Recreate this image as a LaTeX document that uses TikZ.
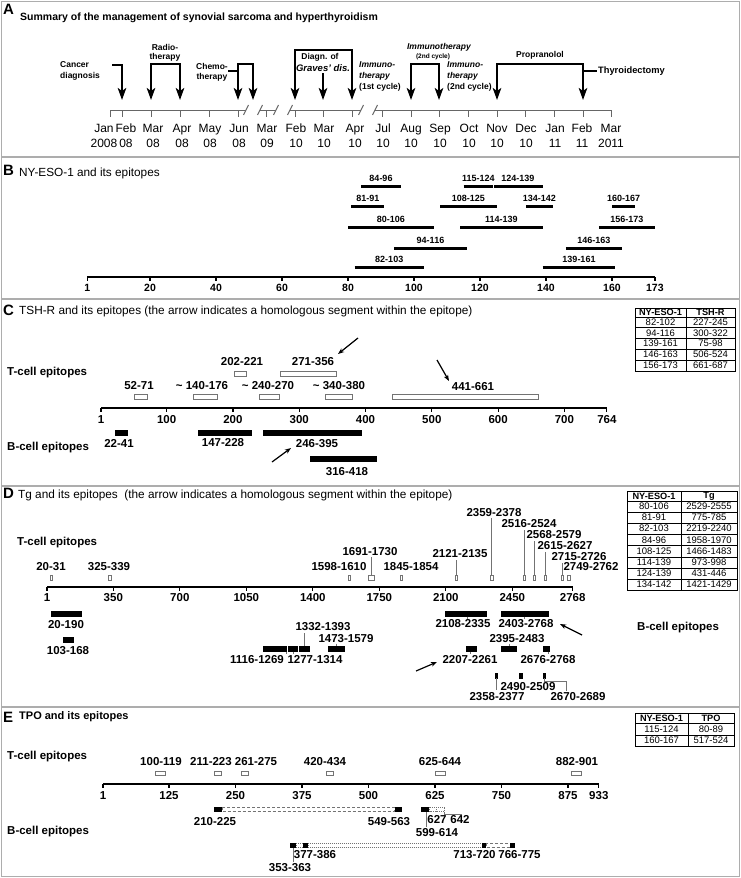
\documentclass[tikz,border=0pt]{standalone}
\usepackage{fontspec}
\setmainfont{Liberation Sans}
\usetikzlibrary{arrows.meta}
\newcommand\fs[2]{\fontsize{#1}{#2}\selectfont}
\tikzset{
  ah/.tip={Stealth[length=12pt,width=8.5pt,inset=3pt]},
  sh/.tip={Stealth[length=6pt,width=4.5pt,inset=1.5pt]},
}
\begin{document}
\begin{tikzpicture}[x=1pt,y=-1pt,
  frame/.style={draw=black!32,line width=1.2pt},
  plet/.style={font=\bfseries\fs{15}{15},inner sep=0,anchor=west},
  ttl/.style={font=\fs{11.8}{12},inner sep=0,anchor=west},
  ttlb/.style={font=\bfseries\fs{10.5}{11},inner sep=0,anchor=west},
  alab/.style={font=\bfseries\fs{8.5}{11},inner sep=0,align=center},
  aital/.style={font=\bfseries\itshape\fs{8.5}{11},inner sep=0},
  amon/.style={font=\fs{12}{15},inner sep=0,align=center},
  aaxis/.style={draw=black!60,line width=1pt},
  aarr/.style={line width=2pt},
  axis/.style={draw=black,line width=1.5pt},
  tick/.style={draw=black,line width=1.2pt},
  tickl/.style={font=\bfseries\fs{11.5}{12},inner sep=0},
  elab/.style={font=\bfseries\fs{11.5}{12},inner sep=0},
  blab/.style={font=\bfseries\fs{9}{10},inner sep=0},
  glab/.style={font=\bfseries\fs{11.5}{12},inner sep=0,anchor=west},
  bbar/.style={draw=black,line width=3pt},
  tbox/.style={draw=black!55,fill=white,line width=0.8pt},
  lead/.style={draw=black!55,line width=0.8pt},
  harr/.style={draw=black,line width=1.2pt,-sh},
  tabl/.style={draw=black,line width=0.7pt},
  thd/.style={font=\bfseries\fs{9.2}{10},inner sep=0},
  tcl/.style={font=\fs{9.5}{10},inner sep=0},
  dbox/.style={draw=black!55,line width=0.8pt,dash pattern=on 3pt off 2pt},
  obox/.style={draw=black!55,line width=0.8pt,dash pattern=on 1pt off 1pt},
]
\useasboundingbox (0,0) rectangle (741,878);
\fill[white] (0,0) rectangle (741,878);
\draw[frame] (1.5,1.5) rectangle (739.5,876.5);
\foreach \y in {157,299,486,707} \draw[frame] (1.5,\y) -- (739.5,\y);

% ================= A =================
\node[plet] (LA) at (3,9) {A};
\node[ttlb] (TA) at (20,18) {Summary of the management of synovial sarcoma and hyperthyroidism};
\draw[aaxis] (110,110) -- (246,110);
\draw[aaxis] (260,110) -- (276,110);
\draw[aaxis] (290,110) -- (361,110);
\draw[aaxis] (375,110) -- (611,110);
\foreach \x in {246,260,276,290,361,375} \draw[aaxis] (\x-2.5,115) -- (\x+2.5,105);
\foreach \x/\lx/\m/\yr [count=\i] in {110/104/Jan/2008,122/126/Feb/08,151/153/Mar/08,180/182/Apr/08,209/210/May/08,238/239/Jun/08,266/267/Mar/09,295/296/Feb/10,323/324/Mar/10,352/355/Apr/10,382/383/Jul/10,411/411/Aug/10,439/440/Sep/10,468/469/Oct/10,497/497/Nov/10,525/526/Dec/10,554/555/Jan/11,583/582/Feb/11,611/611/Mar/2011}{
  \draw[aaxis] (\x,110) -- (\x,117);
  \node[amon] (M\i) at (\lx,135.5) {\m\\\yr};
}
\draw[aarr,-ah] (112,65) -- (122,65) -- (122,100);
\draw[aarr,ah-ah] (151,100) -- (151,64) -- (180,64) -- (180,100);
\draw[aarr] (228,71) -- (238,71);
\draw[aarr,ah-ah] (238,100) -- (238,64) -- (253,64) -- (253,100);
\draw[aarr,ah-ah] (295,100) -- (295,50) -- (352,50) -- (352,100);
\draw[aarr,-ah] (323,73) -- (323,100);
\draw[aarr,ah-ah] (411,100) -- (411,64) -- (439,64) -- (439,100);
\draw[aarr,ah-ah] (497,100) -- (497,64) -- (583,64) -- (583,100);
\draw[aarr] (583,71) -- (597,71);
\node[alab,anchor=west,align=left] (cancer) at (60,70.5) {Cancer\\diagnosis};
\node[alab] (radio) at (165,52.5) {Radio-\\[-2pt]therapy};
\node[alab] (chemo) at (212,72) {Chemo-\\[-1pt]therapy};
\node[alab] (diagn) at (320,57) {Diagn. of};
\node[aital,font=\bfseries\itshape\fs{9.5}{11}] (graves) at (323,68) {Graves' dis.};
\node[alab,anchor=west,align=left] (imm1) at (359,76) {\textit{Immuno-}\\\textit{therapy}\\(1st cycle)};
\node[aital] (imm2t) at (439,47) {Immunotherapy};
\node[alab,font=\bfseries\fs{6.5}{8}] (imm2c) at (433,57) {(2nd cycle)};
\node[alab,anchor=west,align=left] (imm2) at (447,76) {\textit{Immuno-}\\\textit{therapy}\\(2nd cycle)};
\node[alab] (prop) at (540,55) {Propranolol};
\node[alab,anchor=west,font=\bfseries\fs{9.3}{11}] (thyr) at (598,71) {Thyroidectomy};

% ================= B =================
\node[plet] (LB) at (3,170) {B};
\node[ttl] (TB) at (19,173) {NY-ESO-1 and its epitopes};
\draw[axis] ({84+3.3*1},277) -- ({84+3.3*173},277);
\foreach \v in {1,20,40,60,80,100,120,140,160,173} {
  \draw[tick] ({84+3.3*\v},277) -- ++(0,4);
  \node[tickl,font=\bfseries\fs{10.5}{11}] (bt\v) at ({84+3.3*\v},288) {\v};
}
\foreach \pa/\pb/\y/\lab [count=\i] in {84/96/186/84-96, 115/124/186/115-124, 124/139/186/124-139, 81/91/206/81-91, 108/125/206/108-125, 134/142/206/134-142, 160/167/206/160-167, 80/106/227/80-106, 114/139/227/114-139, 156/173/227/156-173, 94/116/248/94-116, 146/163/248/146-163, 82/103/267/82-103, 139/161/267/139-161} {
  \draw[bbar] ({84+3.3*\pa},\y) -- ({84+3.3*\pb},\y);
  \node[blab] (be\i) at ({84+1.65*(\pa+\pb)},\y-8) {\lab};
}
\draw[white,line width=1pt] ({84+3.3*124},183) -- ({84+3.3*124},189);

% ================= C =================
\node[plet] (LC) at (3,310) {C};
\node[ttl] (TC) at (19,311) {TSH-R and its epitopes (the arrow indicates a homologous segment within the epitope)};
\node[glab] (CT) at (7,373) {T-cell epitopes};
\node[glab] (CB) at (7,448) {B-cell epitopes};
\draw[axis] (101,408) -- ({101+0.663*763},408);
\foreach \v in {1,100,200,300,400,500,600,700,764} {
  \draw[tick] ({101+0.663*(\v-1)},408) -- ++(0,4);
  \node[tickl] (ct\v) at ({101+0.663*(\v-1)},420) {\v};
}
\foreach \pa/\pb/\y in {202/221/371, 271/356/371, 52/71/394, 140/176/394, 240/270/394, 340/380/394, 441/661/394}
  \draw[tbox] ({101+0.663*(\pa-1)},\y) rectangle ({101+0.663*(\pb-1)},\y+5);
\node[elab] (c1) at (242,362) {202-221};
\node[elab] (c2) at (313,362) {271-356};
\node[elab] (c3) at (139,386) {52-71};
\node[elab] (c4) at (202,386) {\textasciitilde{} 140-176};
\node[elab] (c5) at (268,386) {\textasciitilde{} 240-270};
\node[elab] (c6) at (339,386) {\textasciitilde{} 340-380};
\node[elab] (c7) at (473,387) {441-661};
\foreach \pa/\pb/\y in {22/41/430, 147/228/430, 246/395/430, 316/418/456}
  \fill[black] ({101+0.663*(\pa-1)},\y) rectangle ({101+0.663*(\pb-1)},\y+5.5);
\node[elab] (c8) at (119,443) {22-41};
\node[elab] (c9) at (223,443) {147-228};
\node[elab] (c10) at (317,444) {246-395};
\node[elab] (c11) at (347,472) {316-418};
\coordinate (ca1s) at (358,338); \coordinate (ca1e) at (338,354);
\coordinate (ca2s) at (437,360); \coordinate (ca2e) at (449,381);
\coordinate (ca3s) at (272,462); \coordinate (ca3e) at (291,448);
\draw[harr] (ca1s) -- (ca1e);
\draw[harr] (ca2s) -- (ca2e);
\draw[harr] (ca3s) -- (ca3e);
% table C
\draw[tabl] (635,308) rectangle (735,371);
\draw[tabl] (686,308) -- (686,371);
\foreach \y in {317,327.5,338,349,360} \draw[tabl] (635,\y) -- (735,\y);
\node[thd] (tc0a) at (660.5,312.5) {NY-ESO-1};
\node[thd] (tc0b) at (710.5,312.5) {TSH-R};
\foreach \ya/\pa/\pb [count=\i] in {322.25/82-102/227-245, 332.75/94-116/300-322, 343.5/139-161/75-98, 354.5/146-163/506-524, 365.5/156-173/661-687} {
  \node[tcl] (tc\i a) at (660.5,\ya) {\pa};
  \node[tcl] (tc\i b) at (710.5,\ya) {\pb};
}

% ================= D =================
\node[plet] (LD) at (3,493) {D};
\node[ttl] (TD) at (18,495) {Tg and its epitopes\ \ (the arrow indicates a homologous segment within the epitope)};
\node[glab] (DT) at (17,543) {T-cell epitopes};
\node[glab] (DB) at (637,628) {B-cell epitopes};
\draw[axis] (47,587) -- ({47+0.19*2767},587);
\foreach \v in {1,350,700,1050,1400,1750,2100,2450,2768} {
  \draw[tick] ({47+0.19*(\v-1)},587) -- ++(0,4);
  \node[tickl] (dt\v) at ({47+0.19*(\v-1)},598) {\v};
}
\foreach \pa/\pb in {50.6/52.7, 108.6/111.2, 348/350.5, 368/374, 400/402.2, 455/457.5, 490/493, 523.5/525.5, 533.5/535.5, 544/546.5, 561.5/563.5, 567.5/570}
  \draw[tbox] (\pa,575) rectangle (\pb,580);
\draw[lead] (371,557) -- (371,575);
\draw[lead] (456.2,560) -- (456.2,575);
\draw[lead] (491.5,518) -- (491.5,575);
\draw[lead] (524.5,530) -- (524.5,575);
\draw[lead] (534.5,541) -- (534.5,575);
\draw[lead] (545.2,552) -- (545.2,575);
\draw[lead] (562.5,563) -- (562.5,575);
\node[elab] (d1) at (51,567) {20-31};
\node[elab] (d2) at (109,567) {325-339};
\node[elab] (d3) at (339,567) {1598-1610};
\node[elab] (d4) at (370,552) {1691-1730};
\node[elab] (d5) at (411,567) {1845-1854};
\node[elab] (d6) at (460,554) {2121-2135};
\node[elab] (d7) at (494,513) {2359-2378};
\node[elab] (d8) at (529,524) {2516-2524};
\node[elab] (d9) at (554,535) {2568-2579};
\node[elab] (d10) at (565,546) {2615-2627};
\node[elab] (d11) at (579,557) {2715-2726};
\node[elab] (d12) at (591,567) {2749-2762};
% B bars
\foreach \pa/\pb/\y in {51/82/611, 445/487/611, 501/549/611, 63/74/637, 263/287/646, 288/298/646, 299/310/646, 328/345/646, 466/477/646, 501/517/646, 543/550/646, 495/497.5/673, 519/523/673, 543/546/673}
  \fill[black] (\pa,\y) rectangle (\pb,\y+5.5);
\node[elab] (d13) at (66,625) {20-190};
\node[elab] (d14) at (68,651) {103-168};
\node[elab] (d15) at (257,660) {1116-1269};
\node[elab] (d16) at (315,660) {1277-1314};
\node[elab] (d17) at (323,627) {1332-1393};
\node[elab] (d18) at (346,639) {1473-1579};
\node[elab] (d19) at (463,624) {2108-2335};
\node[elab] (d20) at (526,624) {2403-2768};
\node[elab] (d21) at (517,639) {2395-2483};
\node[elab] (d22) at (470,660) {2207-2261};
\node[elab] (d23) at (548,660) {2676-2768};
\node[elab] (d24) at (497,697) {2358-2377};
\node[elab] (d25) at (528,687) {2490-2509};
\node[elab] (d26) at (578,697) {2670-2689};
\draw[lead] (304,633) -- (304,646);
\draw[lead] (496,678) -- (496,690);
\draw[lead] (544.5,678) -- (544.5,681) -- (566,681) -- (566,691);
\foreach \x/\ya/\yb in {286/651.5/654, 293/651.5/654, 336/643.5/646, 467/616.5/619, 524/616.5/619, 509/643.5/646, 470/651.5/654, 548/651.5/654}
  \draw[lead,line width=0.6pt] (\x,\ya) -- (\x,\yb);
\coordinate (da1s) at (582,635); \coordinate (da1e) at (560,624);
\coordinate (da2s) at (416,671); \coordinate (da2e) at (437,662);
\draw[harr] (da1s) -- (da1e);
\draw[harr] (da2s) -- (da2e);
% table D
\draw[tabl] (627,491) rectangle (737,590);
\draw[tabl] (681,491) -- (681,590);
\foreach \y in {501,512,523,534,545.5,557,568,579} \draw[tabl] (627,\y) -- (737,\y);
\node[thd] (td0a) at (654,496) {NY-ESO-1};
\node[thd] (td0b) at (709,496) {Tg};
\foreach \ya/\pa/\pb [count=\i] in {506.5/80-106/2529-2555, 517.5/81-91/775-785, 528.5/82-103/2219-2240, 539.75/84-96/1958-1970, 551.25/108-125/1466-1483, 562.5/114-139/973-998, 573.5/124-139/431-446, 584.5/134-142/1421-1429} {
  \node[tcl] (td\i a) at (654,\ya) {\pa};
  \node[tcl] (td\i b) at (709,\ya) {\pb};
}

% ================= E =================
\node[plet] (LE) at (3,717) {E};
\node[ttlb,font=\bfseries\fs{11}{11}] (TE) at (19,717) {TPO and its epitopes};
\node[glab] (ET) at (7,757) {T-cell epitopes};
\node[glab] (EB) at (7,832) {B-cell epitopes};
\draw[axis] (103,784) -- ({103+0.532*932},784);
\foreach \v in {1,125,250,375,500,625,750,875,933} {
  \draw[tick] ({103+0.532*(\v-1)},784) -- ++(0,4);
  \node[tickl] (et\v) at ({103+0.532*(\v-1)},796) {\v};
}
\foreach \pa/\pb in {100/119, 211/223, 261/275, 420/434, 625/644, 882/901}
  \draw[tbox] ({103+0.532*(\pa-1)},771) rectangle ({103+0.532*(\pb-1)},775.5);
\node[elab] (e1) at (161,762) {100-119};
\node[elab] (e2) at (211,762) {211-223};
\node[elab] (e3) at (256,762) {261-275};
\node[elab] (e4) at (325,762) {420-434};
\node[elab] (e5) at (440,762) {625-644};
\node[elab] (e6) at (577,762) {882-901};
% B row 1
\draw[dbox] (222,807) rectangle (394,811.5);
\draw[obox] (429.7,807) rectangle (444.6,811.5);
\draw[obox] (436,807) -- (436,811.5);
\foreach \pa/\pb in {210/225, 549/563, 599/614}
  \fill[black] ({103+0.532*(\pa-1)},806.5) rectangle ({103+0.532*(\pb-1)},812);
\node[elab] (e7) at (215,822) {210-225};
\node[elab] (e8) at (389,822) {549-563};
\node[elab] (e9) at (437,820) {627};
\node[elab] (e10) at (460,820) {642};
\node[elab] (e11) at (437,833) {599-614};
\draw[lead] (426,812) -- (426,827);
\draw[lead] (444.6,811.5) -- (444.6,814) -- (462,814);
% B row 2
\draw[obox] (296,843) rectangle (303,847.5);
\draw[obox] (308,843) rectangle (482,847.5);
\draw[dbox] (486,843) rectangle (510,847.5);
\foreach \pa/\pb in {353/363, 377/386, 713/720, 766/775}
  \fill[black] ({103+0.532*(\pa-1)},842.5) rectangle ({103+0.532*(\pb-1)},848);
\node[elab] (e12) at (315,855) {377-386};
\node[elab] (e13) at (474.5,855) {713-720};
\node[elab] (e14) at (519.5,855) {766-775};
\node[elab] (e15) at (290,868) {353-363};
\draw[lead] (293,848) -- (293,862);
% table E
\draw[tabl] (635,713) rectangle (734,746);
\draw[tabl] (688,713) -- (688,746);
\foreach \y in {723.5,735} \draw[tabl] (635,\y) -- (734,\y);
\node[thd] (te0a) at (661.5,718.25) {NY-ESO-1};
\node[thd] (te0b) at (711,718.25) {TPO};
\node[tcl] (te1a) at (661.5,729.25) {115-124};
\node[tcl] (te1b) at (711,729.25) {80-89};
\node[tcl] (te2a) at (661.5,740.5) {160-167};
\node[tcl] (te2b) at (711,740.5) {517-524};
\end{tikzpicture}
\end{document}
